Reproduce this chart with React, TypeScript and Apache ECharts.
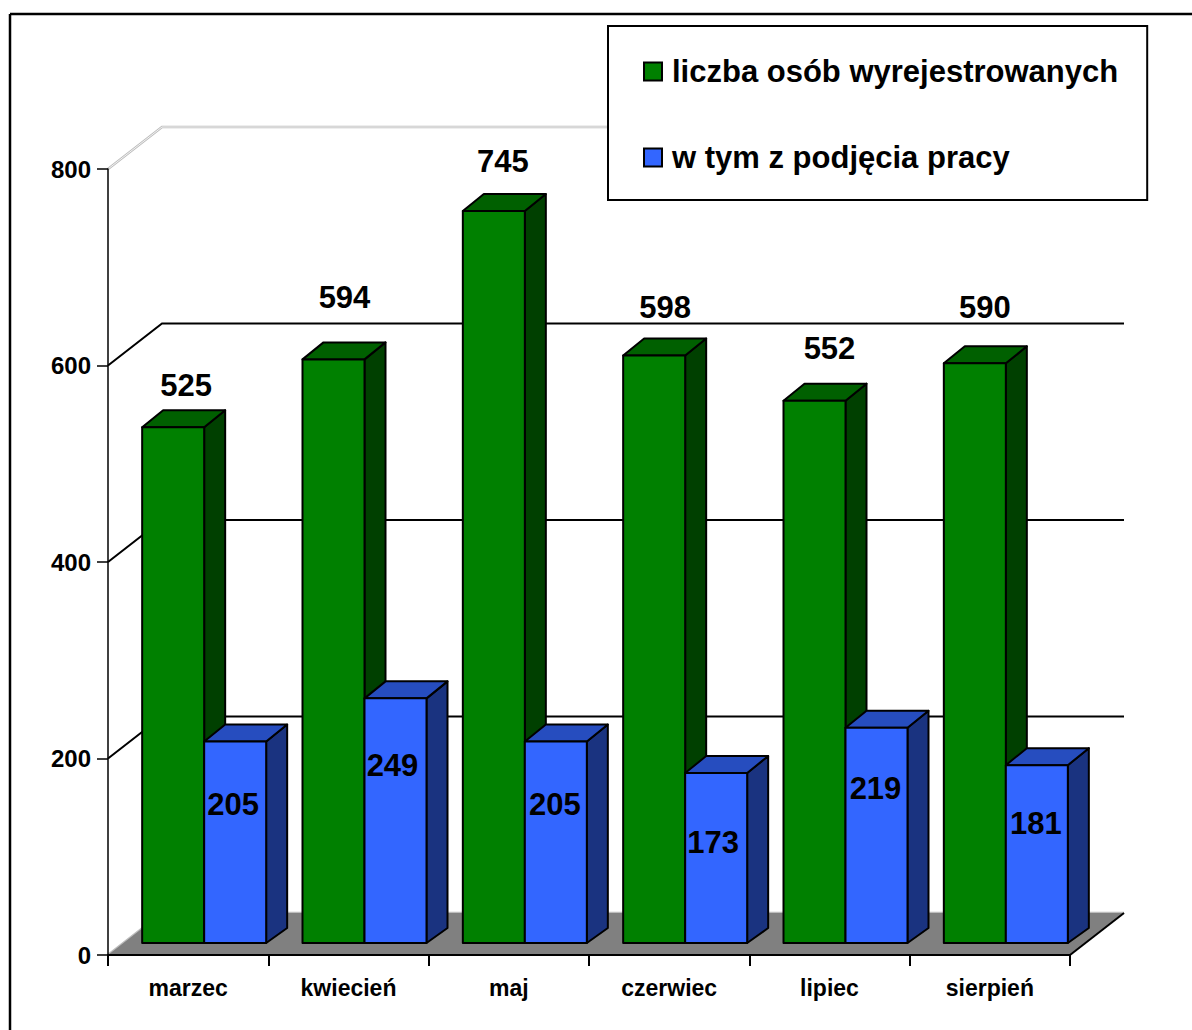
import React, { useEffect, useRef } from "react";
import * as echarts from "echarts";

const categories = ["marzec", "kwiecień", "maj", "czerwiec", "lipiec", "sierpień"];
const seriesNames = ["liczba osób wyrejestrowanych", "w tym z podjęcia pracy"];
const registered = [525, 594, 745, 598, 552, 590];
const employed = [205, 249, 205, 173, 219, 181];
const axisTicks = [0, 200, 400, 600, 800];

// Styling: depth of the 3D box and hand placement of value labels.
const FONT = '"Liberation Sans"';
const WALL_DX = 54;
const WALL_DY = -42;
const PLANE_DX = 16;
const PLANE_DY = -12;
const BAR_DX = 21;
const BAR_DY = -17;
const BAR_BASE_DY = -15;
const BAR_W = 62;
const greenNudge = [[13, -42], [11, -62], [9, -50], [11, -48], [15, -52], [10, -56]];
const blueNudge = [[-2, 63], [-3, 67], [-1, 63], [-3, 69], [-1, 61], [-1, 58]];
const greenColors = { front: "#008000", top: "#006000", side: "#004000" };
const blueColors = { front: "#3366FF", top: "#264DBF", side: "#1A3380" };

function barItem(slot: number, colors: any, nudge: number[][]) {
  return (params: any, api: any) => {
    const i = api.value(0);
    const v = api.value(1);
    const [cx, yTop0] = api.coord([i, v]);
    const yBase0 = api.coord([i, 0])[1];
    const xL = cx + PLANE_DX + slot * BAR_W;
    const xR = xL + BAR_W;
    const yT = yTop0 + PLANE_DY;
    const yB = yBase0 + PLANE_DY;
    const line = { stroke: "#000", lineWidth: 2, lineJoin: "round" };
    return {
      type: "group",
      children: [
        {
          type: "polygon",
          shape: { points: [[xR, yT], [xR + BAR_DX, yT + BAR_DY], [xR + BAR_DX, yB + BAR_BASE_DY], [xR, yB]] },
          style: { fill: colors.side, ...line },
        },
        {
          type: "polygon",
          shape: { points: [[xL, yT], [xL + BAR_DX, yT + BAR_DY], [xR + BAR_DX, yT + BAR_DY], [xR, yT]] },
          style: { fill: colors.top, ...line },
        },
        {
          type: "rect",
          shape: { x: xL, y: yT, width: BAR_W, height: yB - yT },
          style: { fill: colors.front, ...line },
        },
        {
          type: "text",
          z2: 10,
          style: {
            text: String(v),
            x: xL + BAR_W / 2 + nudge[i][0],
            y: yT + nudge[i][1],
            fill: "#000",
            fontFamily: FONT,
            fontWeight: "bold",
            fontSize: 31,
            align: "center",
            verticalAlign: "middle",
          },
        },
      ],
    };
  };
}

function wallItem(params: any, api: any) {
  const t = api.value(1);
  const half = api.size([1, 0])[0] / 2;
  const [c0, y] = api.coord([0, t]);
  const xLeft = c0 - half;
  const xRight = api.coord([categories.length - 1, t])[0] + half;
  const pts = [[xLeft, y], [xLeft + WALL_DX, y + WALL_DY], [xRight + WALL_DX, y + WALL_DY]];
  const light = t === 0 || t === 800;
  const children: any[] = [];
  if (t === 0) {
    children.push({
      type: "polygon",
      shape: { points: [[xLeft, y], [xLeft + WALL_DX, y + WALL_DY], [xRight + WALL_DX, y + WALL_DY], [xRight, y]] },
      style: { fill: "#808080", stroke: "none" },
      z2: 2,
    });
  }
  children.push({
    type: "polyline",
    shape: { points: pts },
    style: { fill: "none", stroke: light ? "#bdbdbd" : "#000", lineWidth: light ? 2.5 : 2 },
  });
  if (light && t !== 0) {
    children.push({
      type: "polyline",
      shape: { points: pts },
      style: { fill: "none", stroke: "#fff", lineWidth: 0.8 },
    });
  }
  if (t === 0) {
    children.push({
      type: "line",
      shape: { x1: xRight, y1: y, x2: xRight + WALL_DX, y2: y + WALL_DY },
      style: { stroke: "#000", lineWidth: 2 },
      z2: 3,
    });
  }
  return { type: "group", children };
}

export default function App() {
  const ref = useRef<HTMLDivElement>(null);
  useEffect(() => {
    const chart = echarts.init(ref.current!, null, { renderer: "svg" });
    chart.setOption({
      animation: false,
      backgroundColor: "#fff",
      grid: { left: 108, top: 169, width: 962, height: 786 },
      xAxis: {
        type: "category",
        data: categories,
        z: 3,
        axisLine: { lineStyle: { color: "#000", width: 2 } },
        axisTick: { show: true, length: 11, alignWithLabel: false, lineStyle: { color: "#000", width: 2 } },
        axisLabel: { color: "#000", fontFamily: FONT, fontWeight: "bold", fontSize: 23, margin: 21, interval: 0 },
      },
      yAxis: {
        type: "value",
        min: 0,
        max: 800,
        interval: 200,
        z: 3,
        splitLine: { show: false },
        axisLine: { show: true, lineStyle: { color: "#000", width: 1.5 } },
        axisTick: { show: true, length: 11, lineStyle: { color: "#000", width: 1.5 } },
        axisLabel: { color: "#000", fontFamily: FONT, fontWeight: "bold", fontSize: 24, margin: 17 },
      },
      legend: {
        left: 608,
        top: 26,
        orient: "vertical",
        data: seriesNames.map((name, i) => ({
          name,
          icon: "rect",
          itemStyle: { color: i === 0 ? greenColors.front : blueColors.front, borderColor: "#000", borderWidth: 2 },
        })),
        itemWidth: 18,
        itemHeight: 18,
        itemGap: 55,
        padding: [30, 29, 27, 35],
        backgroundColor: "#fff",
        borderColor: "#000",
        borderWidth: 2,
        z: 10,
        selectedMode: false,
        textStyle: { color: "#000", fontFamily: FONT, fontWeight: "bold", fontSize: 31, padding: [0, 0, 0, 5] },
      },
      graphic: [
        { type: "line", z: 20, shape: { x1: 10, y1: 14, x2: 1192, y2: 14 }, style: { stroke: "#000", lineWidth: 2.5 } },
        { type: "line", z: 20, shape: { x1: 10, y1: 14, x2: 10, y2: 1030 }, style: { stroke: "#000", lineWidth: 2.5 } },
      ],
      series: [
        {
          type: "custom",
          name: "walls",
          z: 1,
          silent: true,
          renderItem: wallItem,
          data: axisTicks.map((t) => [0, t]),
          encode: { x: 0, y: 1 },
        },
        {
          type: "custom",
          name: seriesNames[0],
          z: 5,
          itemStyle: { color: greenColors.front },
          renderItem: barItem(-1, greenColors, greenNudge),
          data: registered.map((v, i) => [i, v]),
          encode: { x: 0, y: 1 },
        },
        {
          type: "custom",
          name: seriesNames[1],
          z: 6,
          itemStyle: { color: blueColors.front },
          renderItem: barItem(0, blueColors, blueNudge),
          data: employed.map((v, i) => [i, v]),
          encode: { x: 0, y: 1 },
        },
      ],
    });
    return () => chart.dispose();
  }, []);
  return <div ref={ref} style={{ position: "fixed", left: 0, top: 0, width: 1192, height: 1030 }} />;
}
